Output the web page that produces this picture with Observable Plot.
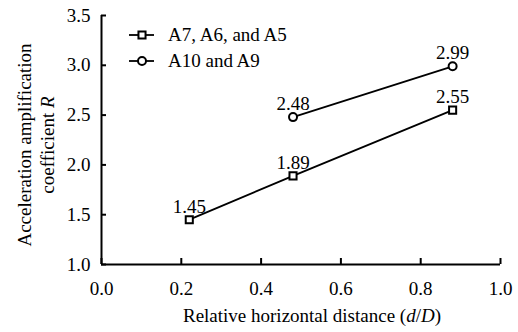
<!DOCTYPE html>
<html>
<head>
<meta charset="utf-8">
<script src="https://cdn.jsdelivr.net/npm/d3@7"></script>
<script src="https://cdn.jsdelivr.net/npm/@observablehq/plot@0.6"></script>
<style>
  body { margin: 0; }
</style>
</head>
<body>
<div id="chart"></div>
<script>
// Data
const seriesNames = ["A7, A6, and A5", "A10 and A9"];
const seriesSymbols = ["square", "circle"];
const squareX = [0.22, 0.48, 0.88];
const squareR = [1.45, 1.89, 2.55];
const circleX = [0.48, 0.88];
const circleR = [2.48, 2.99];
const xTicks = [0, 0.2, 0.4, 0.6, 0.8, 1.0];
const yTicks = [1.0, 1.5, 2.0, 2.5, 3.0, 3.5];

const rows = [
  ...squareX.map((x, i) => ({series: seriesNames[0], x, r: squareR[i], symbol: seriesSymbols[0]})),
  ...circleX.map((x, i) => ({series: seriesNames[1], x, r: circleR[i], symbol: seriesSymbols[1]}))
];

const plot = Plot.plot({
  width: 518,
  height: 332,
  marginLeft: 101,
  marginRight: 18,
  marginTop: 15,
  marginBottom: 68,
  style: {fontFamily: "Times New Roman", fontSize: "19px"},
  x: {domain: [0, 1]},
  y: {domain: [1, 3.5]},
  marks: [
    Plot.axisX(xTicks, {tickSize: -6, tickPadding: 23, tickFormat: d3.format(".1f"), label: null, strokeWidth: 2}),
    Plot.axisY(yTicks, {tickSize: -5, tickPadding: 16, tickFormat: d3.format(".1f"), label: null, strokeWidth: 2}),
    Plot.ruleX([0], {stroke: "#000", strokeWidth: 2}),
    Plot.ruleY([1], {stroke: "#000", strokeWidth: 2}),
    Plot.line(rows, {x: "x", y: "r", z: "series", stroke: "#000", strokeWidth: 1.8}),
    Plot.dot(rows, {x: "x", y: "r", symbol: "symbol", r: 4, stroke: "#000", strokeWidth: 2, fill: "#fff"}),
    Plot.text(rows, {x: "x", y: "r", text: d => d.r.toFixed(2), lineAnchor: "bottom", dy: -7})
  ]
});
document.getElementById("chart").appendChild(plot);

const svg = d3.select(plot);

// x-axis title
const xt = svg.append("text")
  .attr("x", 312).attr("y", 322)
  .attr("text-anchor", "middle").attr("font-family", "Times New Roman");
xt.append("tspan").text("Relative horizontal distance (");
xt.append("tspan").attr("font-style", "italic").text("d");
xt.append("tspan").text("/");
xt.append("tspan").attr("font-style", "italic").text("D");
xt.append("tspan").text(")");

// y-axis title (two lines)
svg.append("text")
  .attr("transform", "translate(31,145) rotate(-90)")
  .attr("text-anchor", "middle").attr("font-family", "Times New Roman")
  .text("Acceleration amplification");
const yt2 = svg.append("text")
  .attr("transform", "translate(54,145) rotate(-90)")
  .attr("text-anchor", "middle").attr("font-family", "Times New Roman");
yt2.append("tspan").text("coefficient ");
yt2.append("tspan").attr("font-style", "italic").text("R");

// legend
const symGen = d3.symbol().size(Math.PI * 16);
const lg = svg.append("g").attr("class", "legend");
seriesNames.forEach((name, i) => {
  const y = 35 + i * 26;
  const g = lg.append("g").attr("transform", `translate(0,${y})`);
  g.append("line").attr("x1", 129).attr("x2", 154).attr("y1", 0).attr("y2", 0)
    .attr("stroke", "#000").attr("stroke-width", 1.8);
  g.append("path")
    .attr("d", symGen.type(seriesSymbols[i] === "square" ? d3.symbolSquare : d3.symbolCircle)())
    .attr("transform", "translate(142,0)")
    .attr("fill", "#fff").attr("stroke", "#000").attr("stroke-width", 2);
  g.append("text").attr("x", 168).attr("y", 0).attr("dy", "0.32em")
    .attr("text-anchor", "start").attr("font-family", "Times New Roman")
    .text(name);
});
</script>
</body>
</html>
